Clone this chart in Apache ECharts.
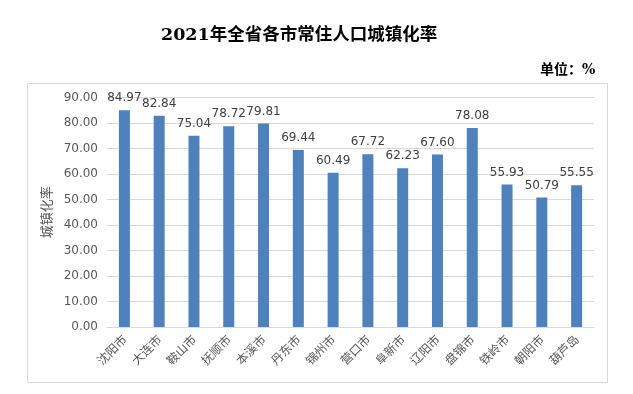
<!DOCTYPE html>
<html><head><meta charset="utf-8">
<script src="https://cdn.jsdelivr.net/npm/echarts@6/dist/echarts.min.js"></script>
<style>html,body{margin:0;padding:0;background:#fff}#c{width:633px;height:394px}</style>
</head><body><div id="c"></div>
<script>
const titleText = '2021年全省各市常住人口城镇化率';
const unitText = '单位：%';
const yAxisName = '城镇化率';
const categories = ['沈阳市','大连市','鞍山市','抚顺市','本溪市','丹东市','锦州市','营口市','阜新市','辽阳市','盘锦市','铁岭市','朝阳市','葫芦岛'];
const rates = [84.97, 82.84, 75.04, 78.72, 79.81, 69.44, 60.49, 67.72, 62.23, 67.60, 78.08, 55.93, 50.79, 55.55];
const yMin = 0, yMax = 90, yStep = 10;

const chart = echarts.init(document.getElementById('c'), null, {renderer:'canvas'});
chart.setOption({
  animation: false,
  backgroundColor: '#fff',
  title: [{
    text: titleText, left: 156, top: 22,
    textStyle: {fontFamily: '"DejaVu Serif","Noto Sans CJK SC",serif', fontSize: 17.5, fontWeight: 'bold', color: '#000'}
  },{
    text: unitText, left: 535, top: 58,
    textStyle: {fontFamily: '"DejaVu Serif","Noto Sans CJK SC",serif', fontSize: 14, fontWeight: 'bold', color: '#000'}
  }],
  graphic: [{
    type: 'rect', shape: {x: 27.5, y: 83.5, width: 580, height: 299},
    style: {fill: 'none', stroke: '#d9d9d9', lineWidth: 1}, silent: true
  }],
  grid: {left: 107, right: 39, top: 97.5, bottom: 67},
  xAxis: {
    type: 'category', data: categories,
    axisLine: {lineStyle: {color: '#d9d9d9'}},
    axisTick: {show: false},
    axisLabel: {rotate: 45, interval: 0, margin: 10, color: '#595959', fontSize: 12,
      fontFamily: '"Noto Sans CJK SC",sans-serif'}
  },
  yAxis: {
    type: 'value', min: yMin, max: yMax, interval: yStep,
    name: yAxisName, nameLocation: 'middle', nameGap: 50, nameRotate: 90,
    nameTextStyle: {color: '#595959', fontSize: 13, fontFamily: '"Noto Sans CJK SC",sans-serif'},
    axisLine: {show: false}, axisTick: {show: false},
    axisLabel: {color: '#595959', fontSize: 12, fontFamily: '"DejaVu Sans",sans-serif', margin: 9,
      formatter: v => v.toFixed(2)},
    splitLine: {lineStyle: {color: '#d9d9d9'}}
  },
  series: [{
    type: 'bar', data: rates, barWidth: 11,
    itemStyle: {color: '#4f81bd'},
    label: {show: true, position: 'top', distance: 6, color: '#404040', fontSize: 12,
      fontFamily: '"DejaVu Sans",sans-serif', formatter: p => p.value.toFixed(2)}
  }]
});
</script></body></html>
